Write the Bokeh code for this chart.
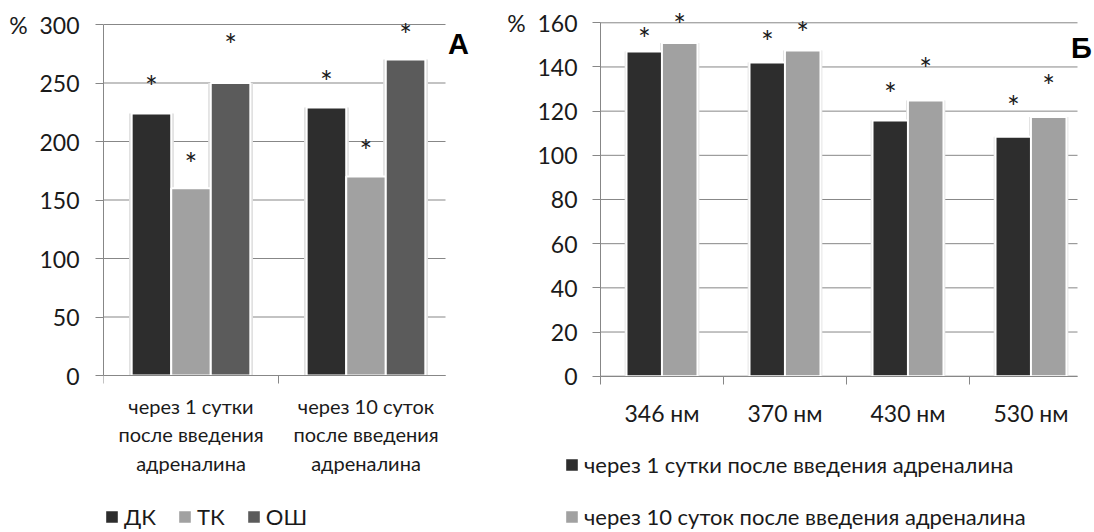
from bokeh.plotting import figure
from bokeh.layouts import row
from bokeh.core.properties import value
from bokeh.models import (Range1d, FixedTicker, Legend, LegendItem, Label,
                          LabelSet, ColumnDataSource)
from bokeh.embed import file_html
from bokeh.resources import INLINE

# ---------------- Panel A data ----------------
a_categories = ["через 1 сутки\nпосле введения\nадреналина",
                "через 10 суток\nпосле введения\nадреналина"]
a_series = ["ДК", "ТК", "ОШ"]
a_dk = [224, 229]
a_tk = [160, 170]
a_osh = [250, 270]
a_dk_star = [252, 256]
a_tk_star = [186, 197]
a_osh_star = [288, 296]
a_yticks = [0, 50, 100, 150, 200, 250, 300]
a_panel_label = "А"

# ---------------- Panel B data ----------------
b_categories = ["346 нм", "370 нм", "430 нм", "530 нм"]
b_series = ["через 1 сутки после введения адреналина",
            "через 10 суток после введения адреналина"]
b_day1 = [147, 142, 115.8, 108.4]
b_day10 = [150.8, 147.4, 124.8, 117.4]
b_day1_star = [155.5, 153.9, 130.4, 124.5]
b_day10_star = [161.8, 158.0, 141.7, 133.9]
b_yticks = [0, 20, 40, 60, 80, 100, 120, 140, 160]
b_panel_label = "Б"

# ---------------- styles / layout (pixels) ----------------
FONT = "Lato"
TEXT = "#1a1a1a"
GRID = "#878787"
DARK = "#2d2d2d"
LIGHT = "#a1a1a1"
MID = "#5b5b5b"
SHADOW = "#e0e0e0"
NB = "\u00a0"
H = 530
TOP = 7

# panel A geometry
A_W, A_FRAME_L, A_AXIS_X = 470, 103, 103
A_ZERO_Y, A_PXU, A_BAND, A_GRID_END = 375.0, 1.17, 175.0, 445
# panel B geometry (figure starts at page x = A_W)
B_W, B_BORDER_L, B_AXIS_X = 624, 30, 600
B_ZERO_Y, B_PXU, B_BAND, B_GRID_END = 375.7, 2.2088, 123.0, 1077
B_LEGEND_X = 563


def make_fig(width, frame_left_page, fig_left_page, axis_x, band, zero_y, pxu,
             border_l):
    frame_w = fig_left_page + width - frame_left_page
    x0 = -(axis_x - frame_left_page) / band
    x1 = x0 + frame_w / band
    y1 = (zero_y - TOP) / pxu
    y0 = -(H - zero_y) / pxu
    p = figure(width=width, height=H, x_range=Range1d(x0, x1),
               y_range=Range1d(y0, y1), output_backend="svg",
               toolbar_location=None, x_axis_location="above",
               min_border_left=border_l, min_border_top=TOP,
               min_border_right=0, min_border_bottom=0)
    p.outline_line_color = None
    p.background_fill_color = "white"
    p.border_fill_color = "white"
    p.xgrid.grid_line_color = None
    p.ygrid.grid_line_color = None
    return p


def style_axes(p, yticks, ncat, grid_end, ystandoff, fixed_y):
    ya = p.yaxis[0]
    ya.ticker = FixedTicker(ticks=yticks, minor_ticks=[])
    ya.bounds = (yticks[0], yticks[-1])
    ya.axis_line_color = GRID
    ya.major_tick_line_color = GRID
    ya.major_tick_out = 8
    ya.major_tick_in = 0
    ya.major_label_standoff = ystandoff
    ya.major_label_text_font = FONT
    ya.major_label_text_font_size = "23px"
    ya.major_label_text_color = TEXT
    ya.major_label_overrides = {yticks[-1]: "%" + NB * 2 + str(yticks[-1])}
    if fixed_y:
        ya.fixed_location = 0
    xa = p.xaxis[0]
    xa.fixed_location = 0
    xa.ticker = FixedTicker(ticks=list(range(ncat)), minor_ticks=[])
    xa.bounds = (0, grid_end)
    xa.axis_line_color = GRID
    xa.major_tick_line_color = GRID
    xa.major_tick_in = 8
    xa.major_tick_out = 0
    xa.major_label_overrides = {i: "" for i in range(ncat)}
    xa.major_label_standoff = 0
    xa.major_label_text_font_size = "1px"
    p.segment(x0=[0] * len(yticks), x1=[grid_end] * len(yticks),
              y0=yticks, y1=yticks, line_color=GRID, line_width=1)


def draw_bars(p, series_vals, colors, offsets, width, halo):
    renderers, sources = [], []
    for vals, off in zip(series_vals, offsets):
        xs = [i + 0.5 + off for i in range(len(vals))]
        sources.append(ColumnDataSource(dict(x=xs, top=vals)))
    for src in sources:
        p.vbar(x="x", top="top", bottom=0, width=width + halo, source=src,
               fill_color=SHADOW, line_color=None)
    for src, c in zip(sources, colors):
        renderers.append(p.vbar(x="x", top="top", bottom=0, width=width,
                                source=src, fill_color=c, line_color="white",
                                line_width=2))
    return renderers


def draw_stars(p, star_vals, offsets):
    for vals, off in zip(star_vals, offsets):
        xs = [i + 0.5 + off for i in range(len(vals))]
        src = ColumnDataSource(dict(x=xs, y=vals, t=["*"] * len(vals)))
        p.add_layout(LabelSet(x="x", y="y", text="t", source=src,
                              text_align="center", text_baseline="middle",
                              y_offset=-5, text_font=value(FONT),
                              text_font_size=value("30px"),
                              text_color=TEXT))


def draw_cat_labels(p, categories, line_ys, size):
    lines = [c.split("\n") for c in categories]
    xs = [i + 0.5 for i in range(len(categories))]
    for k, yv in enumerate(line_ys):
        src = ColumnDataSource(dict(x=xs, y=[yv] * len(xs),
                                    t=[ln[k] for ln in lines]))
        p.add_layout(LabelSet(x="x", y="y", text="t", source=src,
                              text_align="center", text_baseline="middle",
                              text_font=value(FONT),
                              text_font_size=value(size),
                              text_color=TEXT))


def make_legend(p, renderers, names, orientation, spacing, size, x):
    items = [LegendItem(label=n, renderers=[r]) for n, r in zip(names, renderers)]
    lg = Legend(items=items, orientation=orientation, location=(x, 0),
                spacing=spacing, padding=0, margin=0,
                glyph_width=17, glyph_height=17, label_standoff=4,
                label_text_font=FONT, label_text_font_size=size,
                label_text_color=TEXT, background_fill_alpha=0,
                border_line_color=None)
    p.add_layout(lg, "center")


def letter(p, x, y, text):
    p.add_layout(Label(x=x, y=y, text=text, text_align="center",
                       text_baseline="middle", text_font="Liberation Sans",
                       text_font_style="bold", text_font_size="29px",
                       text_color="black"))


# ---------------- Panel A ----------------
pa = make_fig(A_W, A_FRAME_L, 0, A_AXIS_X, A_BAND, A_ZERO_Y, A_PXU, A_FRAME_L)
a_grid_end = (A_GRID_END - A_AXIS_X) / A_BAND
style_axes(pa, a_yticks, len(a_categories), a_grid_end, 16, False)
a_off = [-0.226, 0.0, 0.226]
ra = draw_bars(pa, [a_dk, a_tk, a_osh], [DARK, LIGHT, MID], a_off, 0.226, 0.03)
draw_stars(pa, [a_dk_star, a_tk_star, a_osh_star], a_off)
draw_cat_labels(pa, a_categories,
                [(A_ZERO_Y - py) / A_PXU for py in (405, 433, 462)], "20px")
make_legend(pa, ra, a_series, "horizontal", 20, "22px", 0)
letter(pa, (458 - A_AXIS_X) / A_BAND, (A_ZERO_Y - 43) / A_PXU, a_panel_label)

# ---------------- Panel B ----------------
b_frame_left = A_W + B_BORDER_L
pb = make_fig(B_W, b_frame_left, A_W, B_AXIS_X, B_BAND, B_ZERO_Y, B_PXU,
              B_BORDER_L)
b_grid_end = (B_GRID_END - B_AXIS_X) / B_BAND
style_axes(pb, b_yticks, len(b_categories), b_grid_end, 15, True)
b_off = [-0.144, 0.144]
rb = draw_bars(pb, [b_day1, b_day10], [DARK, LIGHT], b_off, 0.289, 0.03)
draw_stars(pb, [b_day1_star, b_day10_star], b_off)
draw_cat_labels(pb, b_categories, [(B_ZERO_Y - 412) / B_PXU], "23px")
make_legend(pb, rb, b_series, "vertical", 25, "22px", B_LEGEND_X - b_frame_left)
letter(pb, (1081 - B_AXIS_X) / B_BAND, (B_ZERO_Y - 47) / B_PXU, b_panel_label)

layout = row(pa, pb, spacing=0)
open("out.html", "w").write(file_html(layout, INLINE))
